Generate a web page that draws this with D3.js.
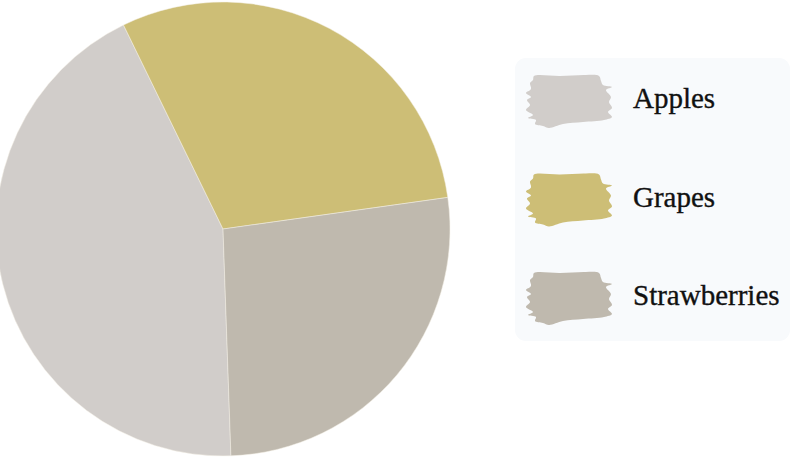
<!DOCTYPE html>
<html>
<head>
<meta charset="utf-8">
<script src="https://cdn.jsdelivr.net/npm/d3@7"></script>
<style>
  body { margin: 0; background: #fff; }
  svg { display: block; }
</style>
</head>
<body>
<div class="chart"></div>
<script>
const fruits = ['Apples', 'Grapes', 'Strawberries']
const amounts = [130, 90, 80]
const colors = ['#d1cdca', '#cdbe76', '#bfb9ae']

const width = 791
const height = 458

const svg = d3.select('.chart')
    .append('svg')
    .attr('width', width)
    .attr('height', height)

const data = fruits.map((f, i) => ({name: f, value: amounts[i]}))

const color = d3.scaleOrdinal()
    .domain(fruits)
    .range(colors)

// pie starts near 6 o'clock and runs clockwise
const start = 178 * Math.PI / 180
const pie = d3.pie()
    .sort(null)
    .value(d => d.value)
    .startAngle(start)
    .endAngle(start + 2 * Math.PI)

const arc = d3.arc()
    .innerRadius(0)
    .outerRadius(227)

const pieG = svg.append('g')
    .attr('transform', 'translate(223,229)')

pieG.selectAll('path')
    .data(pie(data))
    .enter()
    .append('path')
    .attr('d', arc)
    .attr('fill', d => color(d.data.name))
    .attr('stroke', '#f4f1e6')
    .attr('stroke-width', 0.5)

// legend
const legend = svg.append('g')
    .attr('transform', 'translate(515,58)')

legend.append('rect')
    .attr('width', 275)
    .attr('height', 283)
    .attr('rx', 11)
    .attr('fill', '#f8fafc')

const y = d3.scalePoint()
    .domain(fruits)
    .range([17, 214])

// brush-stroke swatch
const brush = [[9,1],[35,1],[60,0],[74,1],[76,6],[78,10],[87,12],[81,15],[86,22],[84,27],[87,33],
    [83,37],[87,42],[79,45],[58,47],[38,49],[24,53],[18,51],[10,49],[11,45],[3,43],[8,40],
    [1,35],[5,30],[2,25],[6,22],[1,18],[6,14],[5,8],[8,5]]

const items = legend.selectAll('.item')
    .data(fruits)
    .enter()
    .append('g')
    .attr('class', 'item')
    .attr('transform', d => `translate(10,${y(d)})`)

items.append('path')
    .attr('d', d3.line().curve(d3.curveCatmullRomClosed.alpha(0.5))(brush))
    .attr('fill', d => color(d))

items.append('text')
    .attr('x', 108)
    .attr('y', 33)
    .attr('font-family', '"Liberation Serif", serif')
    .attr('font-size', 29)
    .attr('fill', '#111')
    .attr('stroke', '#111')
    .attr('stroke-width', 0.35)
    .text(d => d)
</script>
</body>
</html>
